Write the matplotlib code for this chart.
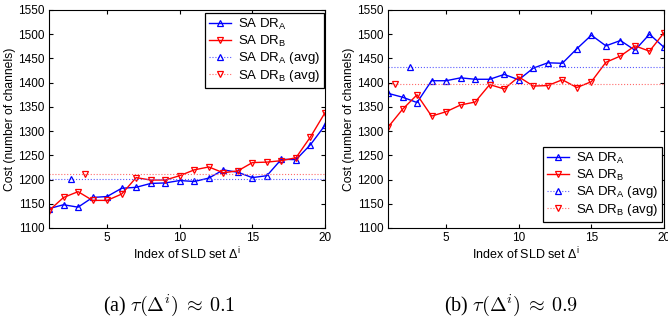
#!/usr/bin/env python3
"""Two panels: SA DR_A / DR_B cost per SLD set index, with dotted averages."""
import matplotlib
matplotlib.use("Agg")
import matplotlib.pyplot as plt

plt.rcParams["font.family"] = ["Liberation Sans", "DejaVu Sans"]
plt.rcParams["mathtext.fontset"] = "custom"
plt.rcParams["mathtext.rm"] = "Liberation Sans"
plt.rcParams["mathtext.it"] = "Liberation Sans:italic"

idx = list(range(1, 21))

# panel (a): tau ~ 0.1
a_dra = [1140, 1148, 1143, 1163, 1165, 1182, 1184, 1192, 1193, 1198,
         1196, 1203, 1220, 1215, 1204, 1208, 1242, 1241, 1272, 1312]
a_drb = [1136, 1163, 1175, 1157, 1157, 1170, 1204, 1199, 1199, 1208,
         1220, 1226, 1214, 1218, 1235, 1236, 1239, 1245, 1288, 1338]
a_avg = [1201, 1212]
a_avg_x = [2.5, 3.5]

# panel (b): tau ~ 0.9
b_dra = [1378, 1370, 1359, 1404, 1404, 1410, 1407, 1407, 1417, 1406,
         1430, 1441, 1440, 1470, 1498, 1476, 1487, 1467, 1500, 1473]
b_drb = [1308, 1345, 1375, 1331, 1340, 1354, 1360, 1396, 1387, 1412,
         1393, 1394, 1406, 1390, 1402, 1442, 1455, 1476, 1465, 1503]
b_avg = [1432, 1397]
b_avg_x = [2.5, 1.5]

labels = ["SA DR$_\\mathregular{A}$", "SA DR$_\\mathregular{B}$",
          "SA DR$_\\mathregular{A}$ (avg)", "SA DR$_\\mathregular{B}$ (avg)"]
yticks = list(range(1100, 1551, 50))

W, H = 668, 326
fig = plt.figure(figsize=(W / 100, H / 100), dpi=100)


def panel(rect, dra, drb, avg, avg_x, leg_xy, caption, cap_x):
    ax = fig.add_axes(rect)
    mk = dict(ms=4, mfc="none", mew=0.9)
    ax.plot(idx, dra, "-", color="#0000ff", lw=1.0, marker="^",
            label=labels[0], **mk)
    ax.plot(idx, drb, "-", color="#ff0000", lw=1.0, marker="v",
            label=labels[1], **mk)
    ax.plot([1, avg_x[0], 20], [avg[0]] * 3, ":", color="#5a5aff", lw=0.8,
            marker="^", mec="#0000ff", markevery=[1], label=labels[2], **mk)
    ax.plot([1, avg_x[1], 20], [avg[1]] * 3, ":", color="#ff6a6a", lw=0.8,
            marker="v", mec="#ff0000", markevery=[1], label=labels[3], **mk)
    ax.set_xlim(1, 20)
    ax.set_ylim(1100, 1550)
    ax.set_xticks([5, 10, 15, 20])
    ax.set_yticks(yticks)
    ax.tick_params(direction="in", length=3, labelsize=8.5, pad=3,
                   top=True, right=True)
    for s in ax.spines.values():
        s.set_linewidth(0.8)
    ax.set_xlabel("Index of SLD set $\\Delta^\\mathregular{i}$", fontsize=9,
                  labelpad=1)
    ax.set_ylabel("Cost (number of channels)", fontsize=8.7, labelpad=2)
    leg = ax.legend(loc="upper left", bbox_to_anchor=leg_xy,
                    bbox_transform=fig.transFigure, borderaxespad=0,
                    fontsize=9.5, numpoints=1, handlelength=1.7,
                    handletextpad=0.5, labelspacing=0.12, borderpad=0.3,
                    fancybox=False, framealpha=1, edgecolor="black")
    leg.get_frame().set_linewidth(0.9)
    fig.text(cap_x / W, 1 - 305 / H, caption, ha="center", va="center",
             fontsize=14.5, family="Liberation Serif", math_fontfamily="cm")


panel([49 / W, 1 - 228 / H, 276 / W, 218 / H], a_dra, a_drb, a_avg, a_avg_x,
      (205 / W, 1 - 13 / H),
      "(a) $\\tau(\\Delta^i)\\:\\approx\\:0.1$", 169)
panel([388 / W, 1 - 228 / H, 276 / W, 218 / H], b_dra, b_drb, b_avg, b_avg_x,
      (543 / W, 1 - 147 / H),
      "(b) $\\tau(\\Delta^i)\\:\\approx\\:0.9$", 511)

fig.savefig("out.png", dpi=100)
